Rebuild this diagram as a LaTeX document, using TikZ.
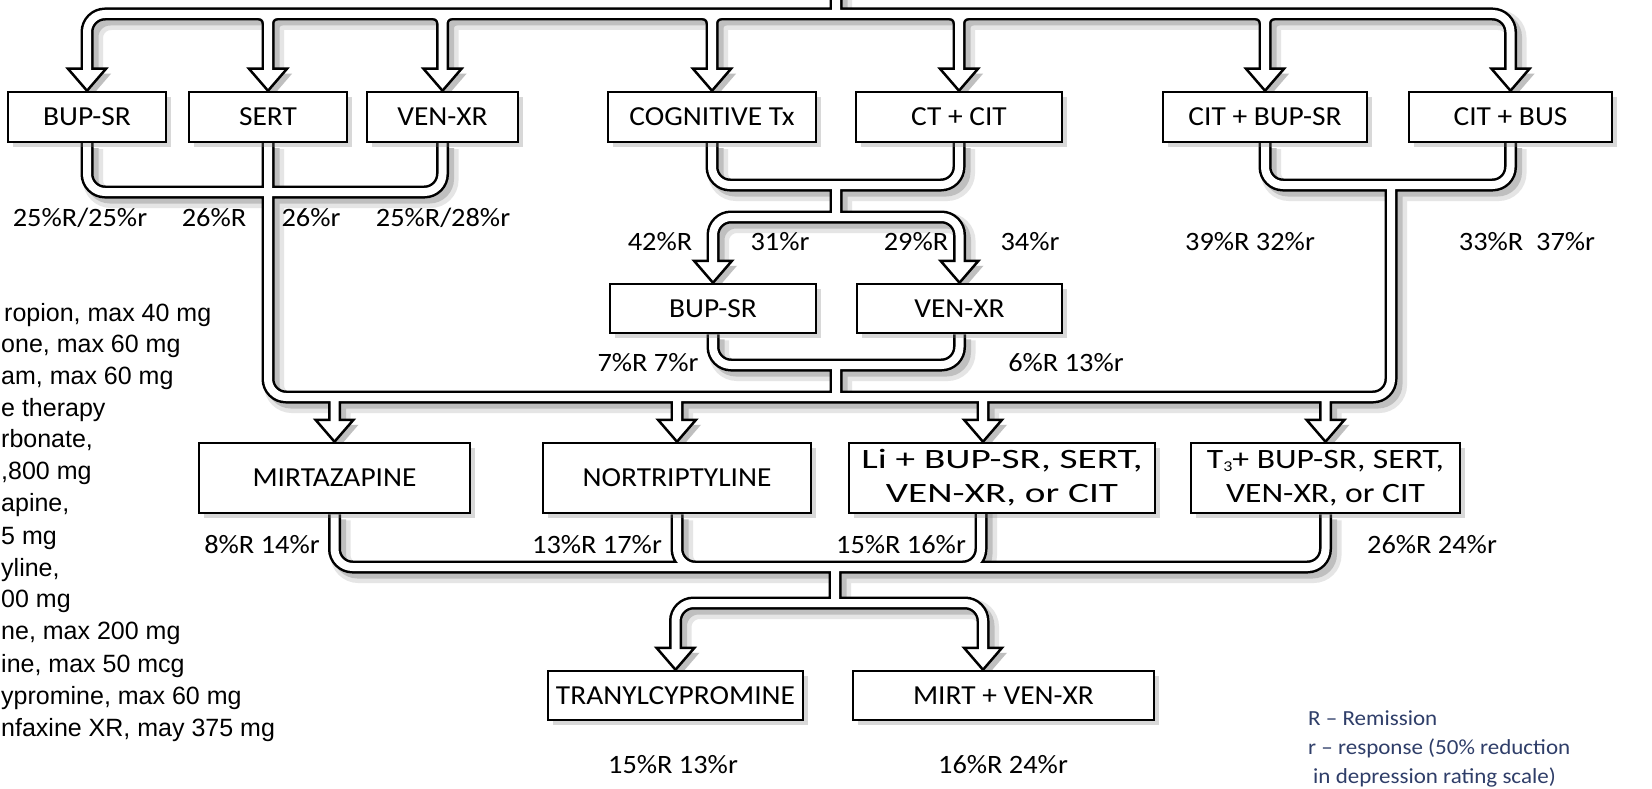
\documentclass[tikz,border=0pt]{standalone}
\usepackage{fontspec}
\newfontfamily\boxfont{Carlito}[FakeStretch=1.07]
\newfontfamily\widefont{Carlito}[FakeStretch=1.4]
\newfontfamily\midfont{Carlito}[FakeStretch=1.2]
\newfontfamily\arialfont{Liberation Sans}
\usetikzlibrary{calc,shadows}
\definecolor{legblue}{RGB}{47,62,105}
\pgfdeclarelayer{shadowlayer}
\pgfdeclarelayer{pipelayer}
\pgfsetlayers{shadowlayer,pipelayer,main}

\newcommand\pipenet{
  (top) -- (h1)
  ([yshift=19pt]b1.north) |- (h1) -| ([yshift=19pt]b7.north)
  [rounded corners=9pt]
  \foreach \n in {b2,b3,b4,b5,b6} {
    ($(\n.north |- h1)+(-30,0)$) -- (\n.north |- h1) -- ([yshift=19pt]\n.north)
    ($(\n.north |- h1)+(30,0)$) -- (\n.north |- h1) -- ([yshift=19pt]\n.north)
  }
  [rounded corners=18pt]
  (b1) |- (uL) -| (b3)
  (b2) |- (j2) -| (uR)
  (b6) |- (uR) -| (b7)
  (b4) |- (uM) -| (b5)
  (uM) -- (capM)
  ([yshift=19pt]c1.north) |- (capM) -| ([yshift=19pt]c2.north)
  (c1) |- (uL2) -| (c2)
  (uL2) -- (j2)
  \foreach \n in {d1.north,d2.north,d3t,d4.north} { (\n |- j2) -- ([yshift=19pt]\n) }
  (d1) |- (uB) -| (d4)
  (d2) |- ($(d2 |- uB)+(40,0)$)
  (d3o) |- ($(d3o |- uB)+(-40,0)$)
  (uB) -- (capB)
  ([yshift=19pt]e1.north) |- (capB) -| ([yshift=19pt]e2t)
}

\begin{document}
\begin{tikzpicture}[x=1pt,y=-1pt,
  boxn/.style={draw=black, line width=2.5pt, fill=white, inner sep=0pt,
    align=center, font=\boxfont\fontsize{27.5}{33}\selectfont,
    drop shadow={opacity=0.3, shadow xshift=5pt, shadow yshift=-5pt}},
  lbl/.style={inner sep=0pt, font=\boxfont\fontsize{26.5}{30}\selectfont},
  legl/.style={inner sep=0pt, anchor=base west, font=\arialfont\fontsize{25}{30}\selectfont},
  legr/.style={inner sep=0pt, anchor=west, text=legblue, font=\boxfont\fontsize{21.5}{25}\selectfont},
  arrowhd/.style={draw=black, fill=white, line width=2.5pt, line join=miter},
  pipeblk/.style={draw=black, line width=13pt, rounded corners=18pt},
  pipewht/.style={draw=white, line width=8pt, rounded corners=18pt},
  pipeshd/.style={draw=black!25, line width=13pt, rounded corners=18pt,
    transform canvas={xshift=5pt,yshift=-5pt}},
  pipeshd2/.style={draw=black!10, line width=20pt, rounded corners=18pt,
    transform canvas={xshift=6pt,yshift=-6pt}}
]
\useasboundingbox (0,0) rectangle (1652,789);

% junction coordinates
\coordinate (top) at (836,-12);
\coordinate (h1) at (836,14);
\coordinate (uL) at (268,192);
\coordinate (uM) at (836,185);
\coordinate (capM) at (836,217);
\coordinate (uR) at (1391,185);
\coordinate (uL2) at (836,365);
\coordinate (j2) at (836,397);
\coordinate (uB) at (835,567);
\coordinate (capB) at (835,603);

% level 1
\node[boxn, minimum width=158pt, minimum height=50pt] (b1) at (87,117) {BUP-SR};
\node[boxn, minimum width=158pt, minimum height=50pt] (b2) at (268,117) {SERT};
\node[boxn, minimum width=151pt, minimum height=50pt] (b3) at (442.5,117) {VEN-XR};
\node[boxn, minimum width=208pt, minimum height=50pt] (b4) at (712,117) {COGNITIVE Tx};
\node[boxn, minimum width=206pt, minimum height=50pt] (b5) at (959,117) {CT + CIT};
\node[boxn, minimum width=204pt, minimum height=50pt] (b6) at (1265,117) {CIT + BUP-SR};
\node[boxn, minimum width=203pt, minimum height=50pt] (b7) at (1510.5,117) {CIT + BUS};
% level 2
\node[boxn, minimum width=206pt, minimum height=49pt] (c1) at (713,308.5) {BUP-SR};
\node[boxn, minimum width=205pt, minimum height=49pt] (c2) at (959.5,308.5) {VEN-XR};
% level 3
\node[boxn, minimum width=271pt, minimum height=70pt] (d1) at (334.5,478) {MIRTAZAPINE};
\node[boxn, minimum width=268pt, minimum height=70pt] (d2) at (677,478) {NORTRIPTYLINE};
\node[boxn, minimum width=306pt, minimum height=70pt, font=\widefont\fontsize{28}{34}\selectfont] (d3) at (1002,478) {Li + BUP-SR, SERT,\\VEN-XR, or CIT};
\node[boxn, minimum width=269pt, minimum height=70pt, font=\midfont\fontsize{28}{34}\selectfont] (d4) at (1325.5,478) {T{\fontsize{15}{15}\selectfont\raisebox{-3pt}{3}}+ BUP-SR, SERT,\\VEN-XR, or CIT};
% level 4
\node[boxn, minimum width=255pt, minimum height=49pt] (e1) at (675.5,695.5) {TRANYLCYPROMINE};
\node[boxn, minimum width=301pt, minimum height=49pt] (e2) at (1003.5,695.5) {MIRT + VEN-XR};

% off-centre connector points
\coordinate (d3t) at ([xshift=-19pt]d3.north);
\coordinate (d3o) at ([xshift=-21pt]d3.center);
\coordinate (e2t) at ([xshift=-20.5pt]e2.north);

% result labels
\node[lbl] (l1) at (80,218) {25\%R/25\%r};
\node[lbl] (l2) at (214,218) {26\%R};
\node[lbl] (l3) at (311,218) {26\%r};
\node[lbl] (l4) at (443,218) {25\%R/28\%r};
\node[lbl] (l5) at (660,242) {42\%R};
\node[lbl] (l6) at (780,242) {31\%r};
\node[lbl] (l7) at (916,242) {29\%R};
\node[lbl] (l8) at (1030,242) {34\%r};
\node[lbl] (l9) at (1250,242) {39\%R 32\%r};
\node[lbl] (l10) at (1527,242) {33\%R\ \ 37\%r};
\node[lbl] (l11) at (648,363) {7\%R 7\%r};
\node[lbl] (l12) at (1066,363) {6\%R 13\%r};
\node[lbl] (l13) at (262,545) {8\%R 14\%r};
\node[lbl] (l14) at (597,545) {13\%R 17\%r};
\node[lbl] (l15) at (901,545) {15\%R 16\%r};
\node[lbl] (l16) at (1432,545) {26\%R 24\%r};
\node[lbl] (l17) at (673,765) {15\%R 13\%r};
\node[lbl] (l18) at (1003,765) {16\%R 24\%r};

% left legend (as cut at the picture edge)
\node[legl] (g1) at (4,321) {ropion, max 40 mg};
\node[legl] (g2) at (1,352) {one, max 60 mg};
\node[legl] (g3) at (1,384) {am, max 60 mg};
\node[legl] (g4) at (1,416) {e therapy};
\node[legl] (g5) at (1,447) {rbonate,};
\node[legl] (g6) at (1,479) {,800 mg};
\node[legl] (g7) at (1,511) {apine,};
\node[legl] (g8) at (1,544) {5 mg};
\node[legl] (g9) at (1,576) {yline,};
\node[legl] (g10) at (1,607) {00 mg};
\node[legl] (g11) at (1,639) {ne, max 200 mg};
\node[legl] (g12) at (1,672) {ine, max 50 mcg};
\node[legl] (g13) at (1,704) {ypromine, max 60 mg};
\node[legl] (g14) at (1,736) {nfaxine XR, may 375 mg};

% right legend
\node[legr] (k1) at (1308,718) {R – Remission};
\node[legr] (k2) at (1308,748) {r – response (50\% reduction};
\node[legr] (k3) at (1313,777) {in depression rating scale)};

% shadows and background
\begin{pgfonlayer}{shadowlayer}
\fill[white] (0,0) rectangle (1652,789);
\draw[pipeshd2] \pipenet;
\draw[pipeshd] \pipenet;
\foreach \t in {b1.north,b2.north,b3.north,b4.north,b5.north,b6.north,b7.north,c1.north,c2.north,d1.north,d2.north,d3t,d4.north,e1.north,e2t} {
  \fill[black!25, transform canvas={xshift=5pt,yshift=-5pt}]
    ([shift={(-19,-22)}]\t) -- ([shift={(19,-22)}]\t) -- (\t) -- cycle;
}
\end{pgfonlayer}

% pipes
\begin{pgfonlayer}{pipelayer}
\draw[pipeblk] \pipenet;
\foreach \t in {b1.north,b2.north,b3.north,b4.north,b5.north,b6.north,b7.north,c1.north,c2.north,d1.north,d2.north,d3t,d4.north,e1.north,e2t} {
  \draw[arrowhd] ([shift={(-19,-22)}]\t) -- ([shift={(19,-22)}]\t) -- (\t) -- cycle;
}
\draw[pipewht] \pipenet;
\end{pgfonlayer}
\end{tikzpicture}
\end{document}
